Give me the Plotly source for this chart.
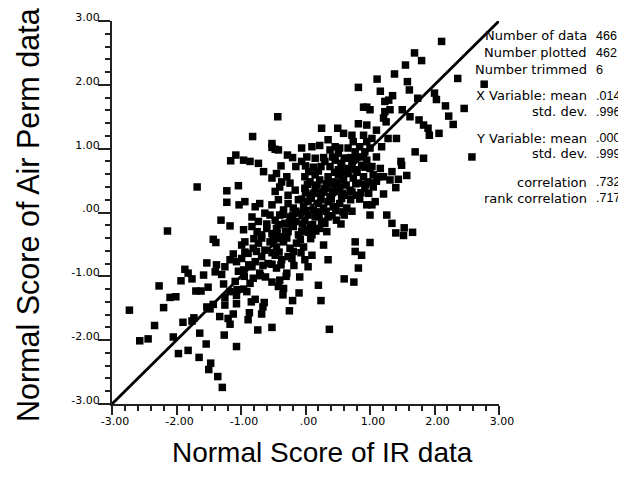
import plotly.graph_objects as go

# ---- data (normal scores) ----
ir_score = [
 2.11,1.69,1.80,1.11,1.38,1.55,2.36,2.77,1.58,1.61,1.16,1.35,1.29,1.23,1.74,2.00,2.03,2.17,2.46,1.50,
 1.31,1.23,1.21,1.25,1.62,1.76,1.83,1.90,2.22,2.29,1.92,2.07,1.00,1.10,1.03,1.28,1.41,2.58,0.82,0.90,
 0.95,-0.43,-0.82,0.25,0.50,0.59,0.82,0.95,0.72,0.90,0.35,-0.52,0.74,0.95,-1.08,-1.16,-1.68,-1.22,-1.04,-1.22,
 -1.03,-1.31,-1.17,-2.14,-1.43,-1.39,-1.12,-1.17,-1.53,-1.38,-1.25,-1.07,-1.87,-1.82,-1.40,-1.58,-1.30,-1.04,-2.27,-1.93,
 -1.76,-1.09,-1.27,-1.51,-1.70,-1.62,-1.06,-1.17,-2.10,-2.01,-1.25,-1.07,-2.73,-2.20,-1.53,-1.48,-1.43,-1.07,-1.25,-1.33,
 -1.20,-1.17,-1.12,-1.90,-1.76,-1.73,-2.34,-1.64,-1.26,-2.57,-2.44,-2.05,-1.54,-1.07,-1.97,-1.82,-1.65,-1.47,-1.50,-1.36,
 -1.29,-0.81,-0.96,-0.86,-0.52,-0.40,-0.42,-0.34,-0.09,0.20,0.60,0.75,-0.91,-0.78,-0.84,-0.35,-0.20,-0.10,0.24,-0.64,
 -0.66,-0.87,-0.68,-0.25,-0.89,-0.74,-0.52,0.37,1.18,1.10,1.70,1.83,1.48,1.49,1.03,1.16,1.34,1.05,1.13,1.21,
 1.57,1.31,1.44,1.05,1.10,1.40,1.05,1.21,1.08,1.03,1.00,1.26,1.34,1.53,1.40,1.52,1.66,1.00,-0.47,-0.28,
 -0.06,0.10,0.22,-0.06,-0.96,-0.86,-0.73,-0.65,-0.38,-0.78,-0.94,-0.45,0.77,0.77,0.87,0.82,0.35,0.04,-0.21,
 -0.52,-0.42,0.38,0.46,0.51,0.53,0.66,0.77,0.84,0.92,1.00,
 0.30,0.38,0.46,0.51,0.56,0.64,0.72,0.79,0.87,0.95,1.00,0.77,0.66,
 -0.52,-0.45,-0.37,-0.29,-0.24,-0.01,0.07,0.15,0.22,0.35,0.43,0.51,0.59,0.66,0.74,0.82,0.90,0.97,
 -0.47,-0.40,-0.27,-0.16,-0.01,0.07,0.15,0.22,0.30,0.38,0.46,0.53,0.61,0.69,0.79,0.92,
 -0.94,-0.71,-0.52,-0.42,-0.34,-0.27,-0.19,-0.11,-0.03,0.04,0.12,0.20,0.28,0.35,0.43,0.53,0.64,0.95,
 -0.83,-0.73,-0.63,-0.47,-0.40,-0.32,-0.24,-0.16,-0.09,-0.01,0.07,0.15,0.25,0.35,0.48,
 -0.96,-0.83,-0.68,-0.60,-0.52,-0.37,-0.27,-0.19,-0.11,-0.01,0.10,0.22,
 -0.99,-0.81,-0.73,-0.63,-0.55,-0.45,-0.34,-0.24,-0.14,-0.03,0.28,
 -0.99,-0.89,-0.78,-0.68,-0.58,-0.47,-0.37,-0.27,-0.01,0.10,
 -0.96,-0.83,-0.71,-0.45,-0.29,
 0.03,0.18,0.33,0.48,0.63,0.78,0.93,
 0.00,0.12,0.27,0.42,0.57,0.72,0.86,0.98,
 -0.06,0.09,0.24,0.40,0.56,0.70,0.84,
 -0.15,0.00,0.18,0.32,0.47,0.58,0.72,
 0.05,0.20,0.45,0.60,0.80,
 -0.55,-0.35,-0.20,0.04,0.21,0.41,0.60,
 -0.60,-0.42,-0.25,-0.05,0.11,0.30,0.55,
 -0.75,-0.44,-0.31,-0.06,0.05,0.16,0.33,
 -0.80,-0.68,-0.50,-0.39,-0.29,-0.08,0.08,
 -0.94,-0.76,-0.52,-0.41,-0.19,-0.07,
 -0.88,-0.66,-0.52,-0.38,-0.18,
 -0.95,-0.70,-0.62,-0.30,
 -0.20,0.02,0.15,0.28,0.42,0.60,0.70,0.90,
 -0.15,0.00,0.12,0.24,0.55,0.92,
]
air_perm_score = [
 2.68,2.50,2.38,2.09,2.17,2.31,2.10,2.01,2.05,1.92,1.90,1.83,1.76,1.74,1.79,1.87,1.77,1.67,1.63,1.61,
 1.61,1.58,1.48,1.42,1.50,1.45,1.37,1.32,1.51,1.38,1.21,1.24,1.61,1.29,1.16,1.16,1.16,0.87,1.96,1.65,
 1.65,1.50,1.19,1.32,1.32,1.24,1.39,1.37,1.21,1.21,1.14,1.08,1.11,1.11,0.90,0.81,0.40,0.34,0.42,0.16,
 0.12,-0.12,-0.21,-0.29,-0.42,-0.47,-0.65,-0.74,-0.79,-0.82,-0.85,-0.77,-0.89,-0.95,-0.93,-0.98,-0.97,-0.92,-1.15,-1.07,
 -1.04,-1.08,-1.12,-1.17,-1.23,-1.23,-1.21,-1.24,-1.33,-1.32,-1.33,-1.30,-1.53,-1.49,-1.48,-1.51,-1.44,-1.43,-1.45,-1.63,
 -1.66,-1.75,-1.59,-1.72,-1.70,-1.65,-1.77,-1.89,-1.92,-2.01,-1.98,-1.95,-2.06,-2.10,-2.21,-2.16,-2.27,-2.36,-2.46,-2.57,
 -2.74,-1.03,-1.20,-1.11,-1.09,-1.06,-1.16,-1.19,-1.01,-1.14,-1.04,-1.09,-1.24,-1.36,-1.40,-1.29,-1.38,-1.26,-1.38,-1.41,
 -1.48,-1.57,-1.59,-1.54,-1.68,-1.84,-1.80,-1.83,1.03,0.87,0.95,0.85,0.80,0.74,0.72,0.69,0.64,0.59,0.56,0.56,
 0.58,0.51,0.52,0.46,0.49,0.39,0.40,0.29,0.17,0.12,-0.04,-0.04,-0.17,-0.24,-0.32,-0.36,-0.31,-0.47,0.99,0.90,
 1.01,1.03,1.05,0.80,0.82,0.80,0.77,0.64,0.73,0.09,-0.46,-0.25,-0.46,-0.61,-0.67,-0.87,-0.74,-0.85,-0.72,
 1.02,0.98,0.98,1.03,0.93,1.01,1.01,0.95,1.03,0.95,1.01,
 0.80,0.72,0.82,0.67,0.77,0.85,0.77,0.87,0.74,0.82,0.69,0.67,0.69,
 0.54,0.61,0.48,0.56,0.46,0.56,0.48,0.59,0.51,0.56,0.48,0.59,0.51,0.61,0.54,0.46,0.56,0.48,
 0.33,0.40,0.27,0.35,0.38,0.27,0.40,0.30,0.38,0.25,0.33,0.40,0.27,0.35,0.27,0.38,
 0.17,0.14,0.12,0.20,0.04,0.14,0.07,0.20,0.09,0.17,0.04,0.14,0.07,0.17,0.09,0.14,0.07,0.12,
 -0.07,-0.14,-0.01,-0.12,-0.04,-0.17,-0.07,-0.14,-0.01,-0.12,-0.20,-0.07,-0.14,-0.07,-0.12,
 -0.27,-0.22,-0.35,-0.25,-0.33,-0.38,-0.30,-0.22,-0.35,-0.27,-0.35,-0.25,
 -0.51,-0.56,-0.48,-0.59,-0.46,-0.54,-0.46,-0.56,-0.48,-0.54,-0.51,
 -0.72,-0.64,-0.77,-0.69,-0.80,-0.67,-0.74,-0.69,-0.74,-0.67,
 -0.90,-0.85,-0.95,-0.87,-0.95,
 0.44,0.43,0.45,0.44,0.43,0.45,0.44,
 0.31,0.30,0.32,0.31,0.30,0.32,0.31,0.30,
 0.21,0.22,0.20,0.21,0.22,0.20,0.21,
 0.02,0.03,0.01,0.02,0.03,0.01,0.02,
 0.64,0.65,0.63,0.64,0.63,
 -0.04,-0.03,-0.05,-0.04,-0.03,-0.05,-0.04,
 -0.18,-0.19,-0.17,-0.18,-0.19,-0.17,-0.18,
 -0.30,-0.31,-0.29,-0.30,-0.31,-0.29,-0.30,
 -0.41,-0.40,-0.42,-0.41,-0.40,-0.42,-0.41,
 -0.62,-0.61,-0.63,-0.62,-0.61,-0.63,
 -0.82,-0.83,-0.81,-0.82,-0.83,
 -1.00,-0.99,-1.01,-1.00,
 0.86,0.87,0.85,0.86,0.87,0.85,0.86,0.87,
 0.72,0.73,0.71,0.72,0.73,0.71,
]

tick_vals = [-3, -2, -1, 0, 1, 2, 3]
tick_text = ["-3.00", "-2.00", "-1.00", ".00", "1.00", "2.00", "3.00"]
ref_line = [-3, 3]

stat_labels = ["Number of data", "Number plotted", "Number trimmed",
               "X Variable: mean", "std. dev.",
               "Y Variable: mean", "std. dev.",
               "correlation", "rank correlation"]
stat_values = ["466", "462", "6", ".014", ".996", ".000", ".999", ".732", ".717"]

# ---- layout (page has an 8px body margin; figure coords = page coords - 8) ----
PAGE = 8
W, H = 626 - PAGE, 481 - 2 * PAGE - 1
L, T = 112 - PAGE, 21 - PAGE
R = W - (499 - PAGE)
B = H - (404 - PAGE)
pw, ph = W - L - R, H - T - B


def px_x(px):
    return (px - PAGE - L) / pw


def px_y(py):
    return (H - B - (py - PAGE)) / ph


stat_rows_px = [36, 53, 70, 96, 112, 138, 154, 182, 198]

fig = go.Figure()
fig.add_trace(go.Scatter(x=ref_line, y=ref_line, mode="lines",
                         line=dict(color="black", width=2.8),
                         hoverinfo="skip", showlegend=False, cliponaxis=False))
fig.add_trace(go.Scatter(x=ir_score, y=air_perm_score, mode="markers",
                         marker=dict(symbol="square", size=7.5, color="black",
                                     line=dict(width=0)),
                         showlegend=False))

minor_pos = [round(-3 + 0.2 * i, 1) for i in range(31)]
tick_font = dict(family="DejaVu Sans", size=11, color="black")
axis_common = dict(range=[-3, 3], showgrid=False, zeroline=False,
                   showline=True, linecolor="#222", linewidth=2,
                   ticks="outside", tickcolor="#222", tickwidth=1.5,
                   tickmode="array", tickvals=tick_vals, ticktext=tick_text,
                   tickfont=tick_font, automargin=False,
                   minor=dict(tickmode="array", tickvals=minor_pos, ticks="outside",
                              ticklen=5, tickcolor="#222", tickwidth=1.5, showgrid=False))

fig.update_xaxes(**axis_common, ticklen=9, ticklabelshift=3, ticklabelstandoff=-3)
fig.update_yaxes(**axis_common, ticklen=12, ticklabelshift=-4, ticklabelstandoff=-4)

ann = []
lab_font = dict(family="DejaVu Sans", size=13, color="black")
val_font = dict(family="Liberation Sans", size=12.5, color="black")
for lab, val, py in zip(stat_labels, stat_values, stat_rows_px):
    ann.append(dict(xref="paper", yref="paper", x=px_x(589), y=px_y(py),
                    xanchor="right", yanchor="middle", text=lab, showarrow=False,
                    font=lab_font))
    ann.append(dict(xref="paper", yref="paper", x=px_x(594), y=px_y(py),
                    xanchor="left", yanchor="middle", text=val, showarrow=False,
                    font=val_font))

ann.append(dict(xref="paper", yref="paper", x=px_x(322), y=px_y(452),
                xanchor="center", yanchor="middle", text="Normal Score of IR data",
                showarrow=False, font=dict(family="Liberation Sans", size=28, color="black")))
ann.append(dict(xref="paper", yref="paper", x=px_x(28), y=px_y(215),
                xanchor="center", yanchor="middle", textangle=-90,
                text="Normal Score of Air Perm data", showarrow=False,
                font=dict(family="Liberation Sans", size=30.5, color="black")))

fig.update_layout(width=W, height=H, margin=dict(l=L, r=R, t=T, b=B, autoexpand=False),
                  paper_bgcolor="white", plot_bgcolor="white",
                  annotations=ann, showlegend=False)

fig.write_html("out.html")
